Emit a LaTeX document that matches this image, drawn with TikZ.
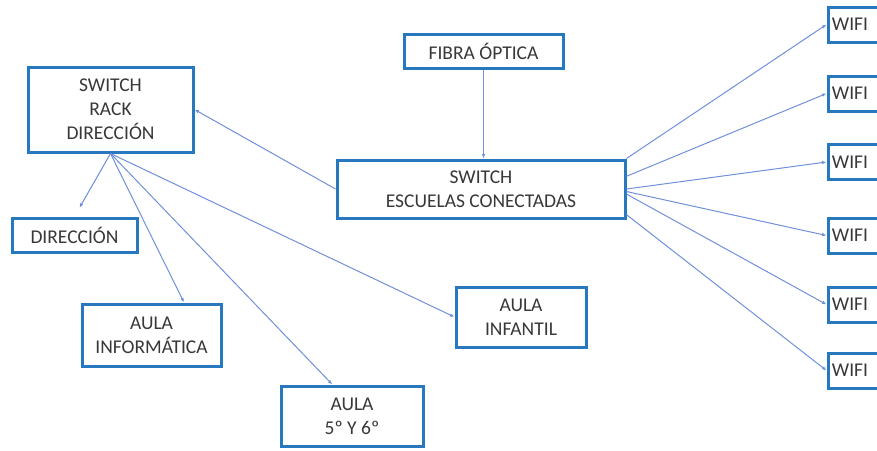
\documentclass[tikz,border=0pt]{standalone}
\usepackage{fontspec}
\setmainfont{Carlito}
\usetikzlibrary{arrows.meta}
\definecolor{boxblue}{HTML}{2878C0}
\definecolor{linkblue}{HTML}{7090DC}
\definecolor{txtgray}{HTML}{383838}
\tikzset{
  box/.style={draw=boxblue, line width=3pt, fill=white, align=center,
    text=txtgray, inner sep=0pt, font=\fontsize{19.5}{24}\selectfont},
  link/.style={draw=linkblue, line width=1pt, -{Latex[length=4.5pt,width=3.5pt]}}
}

\begin{document}
\begin{tikzpicture}[x=1pt,y=-1pt]
\useasboundingbox (0,0) rectangle (877,450);

\node (rack) [box, minimum width=165pt, minimum height=85pt] at (110.5,109.5) {SWITCH\\RACK\\DIRECCIÓN};
\node (dir) [box, minimum width=125pt, minimum height=34pt] at (74.5,235) {DIRECCIÓN};
\node (fibra) [box, minimum width=159pt, minimum height=34pt] at (483.5,51) {FIBRA ÓPTICA};
\node (esc) [box, minimum width=288pt, minimum height=58pt] at (481,189) {SWITCH\\ESCUELAS CONECTADAS};
\node (info) [box, minimum width=139pt, minimum height=62pt] at (151.5,335) {AULA\\INFORMÁTICA};
\node (aula56) [box, minimum width=142pt, minimum height=60pt] at (352,416) {AULA\\5º Y 6º};
\node (infantil) [box, minimum width=130pt, minimum height=60pt] at (521,317) {AULA\\INFANTIL};

\node (wifiA) [box, minimum width=90pt, minimum height=35pt] at (873,24.5) {WIFI\hspace{46pt}};
\node (wifiB) [box, minimum width=90pt, minimum height=35pt] at (873,93.5) {WIFI\hspace{46pt}};
\node (wifiC) [box, minimum width=90pt, minimum height=35pt] at (873,162) {WIFI\hspace{46pt}};
\node (wifiD) [box, minimum width=90pt, minimum height=35pt] at (873,235.5) {WIFI\hspace{46pt}};
\node (wifiE) [box, minimum width=90pt, minimum height=35pt] at (873,304.5) {WIFI\hspace{46pt}};
\node (wifiF) [box, minimum width=90pt, minimum height=35pt] at (873,370.5) {WIFI\hspace{46pt}};

% links
\draw [link] (fibra.south) -- (fibra.south |- esc.north);
\draw [link] (esc.west) -- (rack.east);
\draw [link, shorten >=10pt] (rack.south) -- (dir.north);
\draw [link] (rack.south) -- (info.45);
\draw [link] (rack.south) -- (aula56.122);
\draw [link] (rack.south) -- (infantil.west);

\draw [link] (esc.north east) -- (wifiA.west);
\draw [link] (esc.5) -- (wifiB.west);
\draw [link] (esc.east) -- (wifiC.west);
\draw [link] (esc.-1) -- (wifiD.west);
\draw [link] (esc.-2) -- (wifiE.west);
\draw [link] (esc.-10) -- (wifiF.west);
\end{tikzpicture}
\end{document}
